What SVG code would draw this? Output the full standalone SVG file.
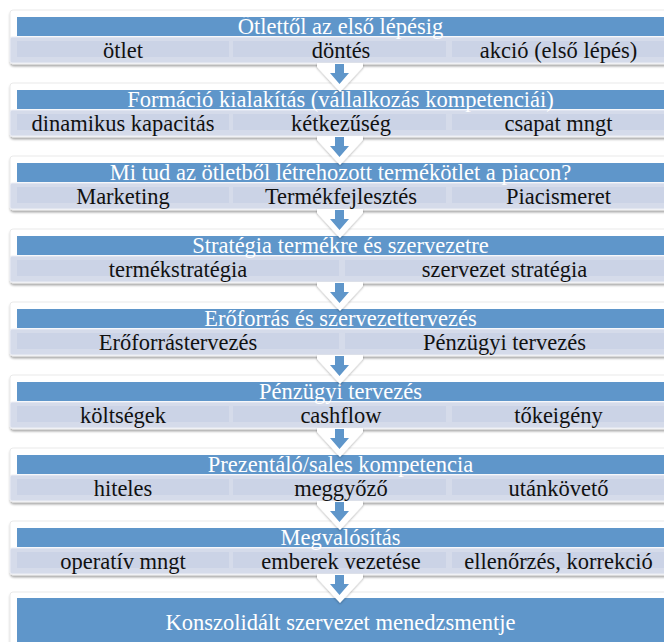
<svg xmlns="http://www.w3.org/2000/svg" width="664" height="642" viewBox="0 0 664 642">
<defs>
<filter id="sh" x="-5%" y="-30%" width="110%" height="170%">
<feDropShadow dx="0.5" dy="2" stdDeviation="1.3" flood-color="#000" flood-opacity="0.35"/>
</filter>
<filter id="ash" x="-30%" y="-30%" width="160%" height="170%">
<feDropShadow dx="0" dy="1" stdDeviation="1" flood-color="#000" flood-opacity="0.3"/>
</filter>
</defs>
<style>
.panel{fill:#ffffff;stroke:#e4e4e4;stroke-width:0.8;filter:url(#sh)}
.bar{fill:#5f96ca}
.band{fill:#d5dbea;stroke:#eceef5;stroke-width:1}
.cell{fill:#cbd3e6}
.t{font-family:"Liberation Serif","DejaVu Serif",serif;font-size:22.5px;text-anchor:middle}
.tw{fill:#ffffff}
.tb{fill:#111111}
.chev{fill:#ffffff;filter:url(#ash)}
.arr{fill:#5f96ca}
</style>
<rect x="0" y="0" width="664" height="642" fill="#ffffff"/>

<g id="block1">
<rect class="panel" x="10" y="10" width="670" height="54" rx="3"/>
<rect class="bar" x="17" y="17" width="660" height="19"/>
<rect class="band" x="10" y="37" width="670" height="26" rx="2"/>
<rect class="cell" x="17" y="41" width="212" height="16"/>
<rect class="cell" x="233" y="41" width="213" height="16"/>
<rect class="cell" x="452" y="41" width="225" height="16"/>
<text class="t tw" x="340.5" y="33.5">Ötlettől az első lépésig</text>
<text class="t tb" x="123" y="57.5">ötlet</text>
<text class="t tb" x="341" y="57.5">döntés</text>
<text class="t tb" x="558.5" y="57.5">akció (első lépés)</text>
</g>

<g id="block2" transform="translate(0,73)">
<rect class="panel" x="10" y="10" width="670" height="54" rx="3"/>
<rect class="bar" x="17" y="17" width="660" height="19"/>
<rect class="band" x="10" y="37" width="670" height="26" rx="2"/>
<rect class="cell" x="17" y="41" width="212" height="16"/>
<rect class="cell" x="233" y="41" width="213" height="16"/>
<rect class="cell" x="452" y="41" width="225" height="16"/>
<text class="t tw" x="340.5" y="33.5">Formáció kialakítás (vállalkozás kompetenciái)</text>
<text class="t tb" x="123" y="57.5">dinamikus kapacitás</text>
<text class="t tb" x="341" y="57.5">kétkezűség</text>
<text class="t tb" x="558.5" y="57.5">csapat mngt</text>
</g>

<g id="block3" transform="translate(0,146)">
<rect class="panel" x="10" y="10" width="670" height="54" rx="3"/>
<rect class="bar" x="17" y="17" width="660" height="19"/>
<rect class="band" x="10" y="37" width="670" height="26" rx="2"/>
<rect class="cell" x="17" y="41" width="212" height="16"/>
<rect class="cell" x="233" y="41" width="213" height="16"/>
<rect class="cell" x="452" y="41" width="225" height="16"/>
<text class="t tw" x="340.5" y="33.5">Mi tud az ötletből létrehozott termékötlet a piacon?</text>
<text class="t tb" x="123" y="57.5">Marketing</text>
<text class="t tb" x="341" y="57.5">Termékfejlesztés</text>
<text class="t tb" x="558.5" y="57.5">Piacismeret</text>
</g>

<g id="block4" transform="translate(0,219)">
<rect class="panel" x="10" y="10" width="670" height="54" rx="3"/>
<rect class="bar" x="17" y="17" width="660" height="19"/>
<rect class="band" x="10" y="37" width="670" height="26" rx="2"/>
<rect class="cell" x="17" y="41" width="322" height="16"/>
<rect class="cell" x="345" y="41" width="332" height="16"/>
<text class="t tw" x="340.5" y="33.5">Stratégia termékre és szervezetre</text>
<text class="t tb" x="178" y="57.5">termékstratégia</text>
<text class="t tb" x="504.5" y="57.5">szervezet stratégia</text>
</g>

<g id="block5" transform="translate(0,292)">
<rect class="panel" x="10" y="10" width="670" height="54" rx="3"/>
<rect class="bar" x="17" y="17" width="660" height="19"/>
<rect class="band" x="10" y="37" width="670" height="26" rx="2"/>
<rect class="cell" x="17" y="41" width="322" height="16"/>
<rect class="cell" x="345" y="41" width="332" height="16"/>
<text class="t tw" x="340.5" y="33.5">Erőforrás és szervezettervezés</text>
<text class="t tb" x="178" y="57.5">Erőforrástervezés</text>
<text class="t tb" x="504.5" y="57.5">Pénzügyi tervezés</text>
</g>

<g id="block6" transform="translate(0,365)">
<rect class="panel" x="10" y="10" width="670" height="54" rx="3"/>
<rect class="bar" x="17" y="17" width="660" height="19"/>
<rect class="band" x="10" y="37" width="670" height="26" rx="2"/>
<rect class="cell" x="17" y="41" width="212" height="16"/>
<rect class="cell" x="233" y="41" width="213" height="16"/>
<rect class="cell" x="452" y="41" width="225" height="16"/>
<text class="t tw" x="340.5" y="33.5">Pénzügyi tervezés</text>
<text class="t tb" x="123" y="57.5">költségek</text>
<text class="t tb" x="341" y="57.5">cashflow</text>
<text class="t tb" x="558.5" y="57.5">tőkeigény</text>
</g>

<g id="block7" transform="translate(0,438)">
<rect class="panel" x="10" y="10" width="670" height="54" rx="3"/>
<rect class="bar" x="17" y="17" width="660" height="19"/>
<rect class="band" x="10" y="37" width="670" height="26" rx="2"/>
<rect class="cell" x="17" y="41" width="212" height="16"/>
<rect class="cell" x="233" y="41" width="213" height="16"/>
<rect class="cell" x="452" y="41" width="225" height="16"/>
<text class="t tw" x="340.5" y="33.5">Prezentáló/sales kompetencia</text>
<text class="t tb" x="123" y="57.5">hiteles</text>
<text class="t tb" x="341" y="57.5">meggyőző</text>
<text class="t tb" x="558.5" y="57.5">utánkövető</text>
</g>

<g id="block8" transform="translate(0,511)">
<rect class="panel" x="10" y="10" width="670" height="54" rx="3"/>
<rect class="bar" x="17" y="17" width="660" height="19"/>
<rect class="band" x="10" y="37" width="670" height="26" rx="2"/>
<rect class="cell" x="17" y="41" width="212" height="16"/>
<rect class="cell" x="233" y="41" width="213" height="16"/>
<rect class="cell" x="452" y="41" width="225" height="16"/>
<text class="t tw" x="340.5" y="33.5">Megvalósítás</text>
<text class="t tb" x="123" y="57.5">operatív mngt</text>
<text class="t tb" x="341" y="57.5">emberek vezetése</text>
<text class="t tb" x="558.5" y="57.5">ellenőrzés, korrekció</text>
</g>

<g id="block9">
<rect class="panel" x="10" y="592" width="670" height="60" rx="3"/>
<rect class="bar" x="17" y="598" width="660" height="50"/>
<text class="t tw" x="340.5" y="630">Konszolidált szervezet menedzsmentje</text>
</g>

<g id="connectors">
<g transform="translate(0,0)"><path class="chev" d="M317,63 L363,63 L363,67 L340,92 L317,67 Z"/><path class="arr" d="M335,64 H344 V73 H349 L339.5,84 L330,73 H335 Z"/></g>
<g transform="translate(0,73)"><path class="chev" d="M317,63 L363,63 L363,67 L340,92 L317,67 Z"/><path class="arr" d="M335,64 H344 V73 H349 L339.5,84 L330,73 H335 Z"/></g>
<g transform="translate(0,146)"><path class="chev" d="M317,63 L363,63 L363,67 L340,92 L317,67 Z"/><path class="arr" d="M335,64 H344 V73 H349 L339.5,84 L330,73 H335 Z"/></g>
<g transform="translate(0,219)"><path class="chev" d="M317,63 L363,63 L363,67 L340,92 L317,67 Z"/><path class="arr" d="M335,64 H344 V73 H349 L339.5,84 L330,73 H335 Z"/></g>
<g transform="translate(0,292)"><path class="chev" d="M317,63 L363,63 L363,67 L340,92 L317,67 Z"/><path class="arr" d="M335,64 H344 V73 H349 L339.5,84 L330,73 H335 Z"/></g>
<g transform="translate(0,365)"><path class="chev" d="M317,63 L363,63 L363,67 L340,92 L317,67 Z"/><path class="arr" d="M335,64 H344 V73 H349 L339.5,84 L330,73 H335 Z"/></g>
<g transform="translate(0,438)"><path class="chev" d="M317,63 L363,63 L363,67 L340,92 L317,67 Z"/><path class="arr" d="M335,64 H344 V73 H349 L339.5,84 L330,73 H335 Z"/></g>
<g transform="translate(0,511)"><path class="chev" d="M317,63 L363,63 L363,67 L340,92 L317,67 Z"/><path class="arr" d="M335,64 H344 V73 H349 L339.5,84 L330,73 H335 Z"/></g>
</g>
</svg>
